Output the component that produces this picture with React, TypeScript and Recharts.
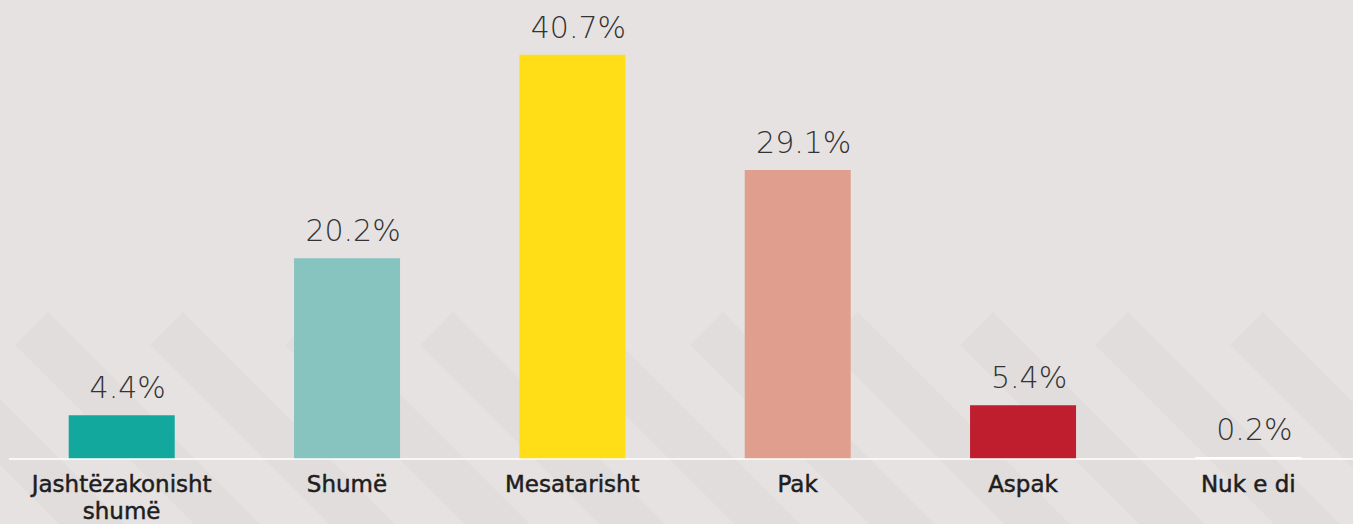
import React from 'react';
import { BarChart, Bar, XAxis, YAxis, Cell, LabelList } from 'recharts';

const categories = ['Jashtëzakonisht shumë', 'Shumë', 'Mesatarisht', 'Pak', 'Aspak', 'Nuk e di'];
const values = [4.4, 20.2, 40.7, 29.1, 5.4, 0.2];
const colors = ['#12a89d', '#87c4bf', '#ffdd17', '#e09e8f', '#be1e2d', '#ffffff'];
const valueLabels = ['4.4%', '20.2%', '40.7%', '29.1%', '5.4%', '0.2%'];

const data = categories.map((c, i) => ({ name: c, value: values[i], label: valueLabels[i] }));

const BG = '#e6e2e1';
const STRIPE = '#e1dddc';

const Stripes = () => {
  const polys: React.ReactNode[] = [];
  for (let i = -3; i < 11; i++) {
    const x0 = 15 + 135 * i;
    const L = 400;
    const pts = `${x0},345 ${x0 + 33},312 ${x0 + 33 + L},${312 + L} ${x0 + L},${345 + L}`;
    polys.push(<polygon key={i} points={pts} fill={STRIPE} />);
  }
  return (
    <svg width={1353} height={524} style={{ position: 'absolute', left: 0, top: 0 }}>
      {polys}
    </svg>
  );
};

const Tick = (props: any) => {
  const { x, y, payload } = props;
  const text: string = payload.value;
  const lines = text.length > 14 ? [text.slice(0, text.indexOf(' ')), text.slice(text.indexOf(' ') + 1)] : [text];
  return (
    <text
      x={x}
      y={y}
      textAnchor="middle"
      fill="#1e1e1e"
      stroke="#1e1e1e"
      strokeWidth={0.5}
      style={{ fontFamily: 'DejaVu Sans', fontSize: 23, fontWeight: 400 }}
    >
      {lines.map((l, i) => (
        <tspan key={i} x={x} dy={i === 0 ? 33 : 27}>
          {l}
        </tspan>
      ))}
    </text>
  );
};

const ValueLabel = (props: any) => {
  const { x, y, width, value } = props;
  return (
    <text
      x={x + width / 2 + 6}
      y={y - 17}
      textAnchor="middle"
      fill="#333333"
      style={{ fontFamily: 'DejaVu Sans', fontSize: 30, fontWeight: 200 }}
    >
      {value}
    </text>
  );
};

export default function App() {
  return (
    <div style={{ position: 'absolute', left: 0, top: 0, width: 1353, height: 524, background: BG, overflow: 'hidden' }}>
      <Stripes />
      <div style={{ position: 'absolute', left: 8, top: 8 }}>
        <BarChart
          width={1353}
          height={516}
          data={data}
          margin={{ top: 4, right: 0, left: 1, bottom: 0 }}
          barCategoryGap="26.5%"
        >
          <YAxis hide domain={[0, 45]} />
          <XAxis
            dataKey="name"
            axisLine={{ stroke: '#ffffff', strokeWidth: 1.5 }}
            tickLine={false}
            tickSize={0}
            tickMargin={0}
            height={65}
            interval={0}
            tick={<Tick />}
          />
          <Bar dataKey="value" isAnimationActive={false}>
            {data.map((d, i) => (
              <Cell key={i} fill={colors[i]} />
            ))}
            <LabelList dataKey="label" content={<ValueLabel />} />
          </Bar>
        </BarChart>
      </div>
    </div>
  );
}
